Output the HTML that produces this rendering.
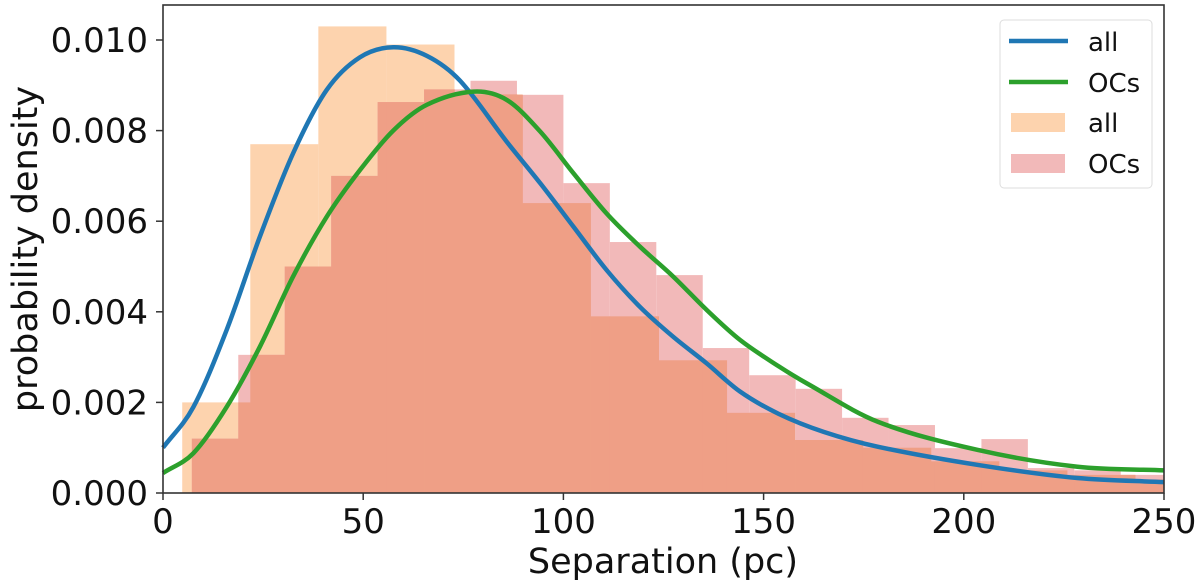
<!DOCTYPE html>
<html><head><meta charset="utf-8"><style>
html,body{margin:0;padding:0;background:#fff;}
svg{display:block;font-family:"DejaVu Sans","Liberation Sans",sans-serif;}
</style></head><body>
<svg id="chart" width="1200" height="586" viewBox="0 0 1200 586" xmlns="http://www.w3.org/2000/svg" style="position:absolute;left:0;top:0">
<g id="bars"></g>
<g id="curves"></g>
<g id="axes"></g>
</svg>
<script>
const allStart = 4.8, allWidth = 17;
const allHeights = [0.0020,0.0077,0.0103,0.0099,0.0088,0.0064,0.0039,0.00293,0.00177,0.00117,0.0010,0.0007,0.0005,0.0004,0.0003];
const ocStart = 7.2, ocWidth = 11.6;
const ocHeights = [0.0012,0.00305,0.0050,0.0070,0.00863,0.00891,0.0091,0.00879,0.00684,0.00554,0.00481,0.0032,0.0026,0.0023,0.00166,0.0015,0.00099,0.00119,0.00055,0.0005,0.0004];
const blueX = [0,7.6,15.9,24.2,32.5,40.9,49.2,57.5,65.9,74.2,85.8,94.2,102.5,110.8,119.1,127.4,135.8,144.1,153.7,165,178.6,203.5,228.4,250];
const blueY = [0.00100,0.0019,0.0036,0.00566,0.0075,0.0089,0.00962,0.00984,0.00965,0.0091,0.00776,0.00684,0.00588,0.00492,0.00411,0.00345,0.00286,0.00224,0.00175,0.00135,0.00102,0.00062,0.00033,0.00024];
const greenX = [0,7.6,15.9,24.2,32.5,40.9,49.2,57.5,65.9,77.5,85.8,94.2,102.5,110.8,119.1,127.4,135.8,144.1,153.7,160.8,178.6,203.5,228.4,250];
const greenY = [0.00044,0.00088,0.0019,0.00323,0.00478,0.0061,0.00713,0.0080,0.00857,0.00886,0.00868,0.00798,0.00706,0.00617,0.00544,0.00478,0.00404,0.00338,0.0028,0.00242,0.00157,0.00095,0.00058,0.0005];
const xTicks = [0,50,100,150,200,250];
const yTicks = [0,0.002,0.004,0.006,0.008,0.010];
const yTickLabels = ["0.000","0.002","0.004","0.006","0.008","0.010"];

const X0=163, X1=1164, Y0=493, YT=5;
const sx = v => X0 + (v/250)*(X1-X0);
const sy = v => Y0 - v*45300;
const NS="http://www.w3.org/2000/svg";
function mk(tag, parent, attrs){const e=document.createElementNS(NS,tag);for(const k in attrs)e.setAttribute(k,attrs[k]);parent.appendChild(e);return e;}

const bars=document.getElementById('bars');
const clip=v=>Math.min(250,v);
allHeights.forEach((h,i)=>{
  const a=allStart+i*allWidth, b=clip(a+allWidth); if(a>=250) return;
  const r=mk('rect',bars,{x:sx(a),y:sy(h),width:sx(b)-sx(a),height:Y0-sy(h),fill:'#fdd3ae'});
  
  
});
ocHeights.forEach((h,i)=>{
  const a=ocStart+i*ocWidth, b=clip(a+ocWidth); if(a>=250) return;
  const r=mk('rect',bars,{x:sx(a),y:sy(h),width:sx(b)-sx(a),height:Y0-sy(h),fill:'#f2b9b9'});
  
  
});
ocHeights.forEach((h,i)=>{
  const a=ocStart+i*ocWidth, b=clip(a+ocWidth); if(a>=250) return;
  allHeights.forEach((h2,j)=>{
    const c=allStart+j*allWidth, d=clip(c+allWidth);
    const lo=Math.max(a,c), hi=Math.min(b,d);
    if(hi>lo){const m=Math.min(h,h2);
      const r=mk('rect',bars,{x:sx(lo),y:sy(m),width:sx(hi)-sx(lo)+0.3,height:Y0-sy(m),fill:'#ef9f86'});
      
      }
  });
});

// cubic Hermite with central-difference tangents
function smoothPath(xs,ys){
  const n=xs.length, m=new Array(n);
  m[0]=(ys[1]-ys[0])/(xs[1]-xs[0]); m[n-1]=(ys[n-1]-ys[n-2])/(xs[n-1]-xs[n-2]);
  for(let i=1;i<n-1;i++) m[i]=(ys[i+1]-ys[i-1])/(xs[i+1]-xs[i-1]);
  let path=`M${sx(xs[0])},${sy(ys[0])}`;
  for(let i=0;i<n-1;i++){
    const h=xs[i+1]-xs[i];
    path+=` C${sx(xs[i]+h/3)},${sy(ys[i]+m[i]*h/3)} ${sx(xs[i+1]-h/3)},${sy(ys[i+1]-m[i+1]*h/3)} ${sx(xs[i+1])},${sy(ys[i+1])}`;
  }
  return path;
}
const curves=document.getElementById('curves');
const bl=mk('path',curves,{d:smoothPath(blueX,blueY),fill:'none',stroke:'#1f77b4','stroke-width':4.5});


const gl=mk('path',curves,{d:smoothPath(greenX,greenY),fill:'none',stroke:'#2ca02c','stroke-width':4.5});



const ax=document.getElementById('axes');
const fr=mk('rect',ax,{x:X0,y:YT,width:X1-X0,height:Y0-YT,fill:'none',stroke:'#333','stroke-width':1.6});


xTicks.forEach(t=>{
  mk('line',ax,{x1:sx(t),x2:sx(t),y1:Y0,y2:Y0+7,stroke:'#333','stroke-width':1.5});
  const tx=mk('text',ax,{x:sx(t),y:533,'text-anchor':'middle','font-size':34,fill:'#111'});
  tx.textContent=t;
  
  
});
yTicks.forEach((t,i)=>{
  mk('line',ax,{x1:X0-7,x2:X0,y1:sy(t),y2:sy(t),stroke:'#333','stroke-width':1.5});
  const tx=mk('text',ax,{x:148,y:sy(t)+12,'text-anchor':'end','font-size':34,fill:'#111'});
  tx.textContent=yTickLabels[i];
  
  
});
</script>
<svg style="position:absolute;left:0;top:0" width="1200" height="586">
<text x="663" y="573" text-anchor="middle" font-size="35" fill="#111" font-family="DejaVu Sans, Liberation Sans, sans-serif">Separation (pc)</text>
<text transform="translate(37,249) rotate(-90)" text-anchor="middle" font-size="35" fill="#111" font-family="DejaVu Sans, Liberation Sans, sans-serif">probability density</text>
<g font-family="DejaVu Sans, Liberation Sans, sans-serif" font-size="26" fill="#111">
<rect x="1000" y="20" width="152" height="168" rx="4" fill="#fff" fill-opacity="0.85" stroke="#ddd"/>
<line x1="1009" x2="1068" y1="41" y2="41" stroke="#1f77b4" stroke-width="4.5"/>
<text x="1088" y="51">all</text>
<line x1="1009" x2="1068" y1="82" y2="82" stroke="#2ca02c" stroke-width="4.5"/>
<text x="1088" y="92">OCs</text>
<rect x="1011" y="113" width="54" height="19" fill="#fdd3ae"/>
<text x="1088" y="132">all</text>
<rect x="1011" y="154" width="54" height="19" fill="#f2b9b9"/>
<text x="1088" y="173">OCs</text>
</g>
</svg>
</body></html>
